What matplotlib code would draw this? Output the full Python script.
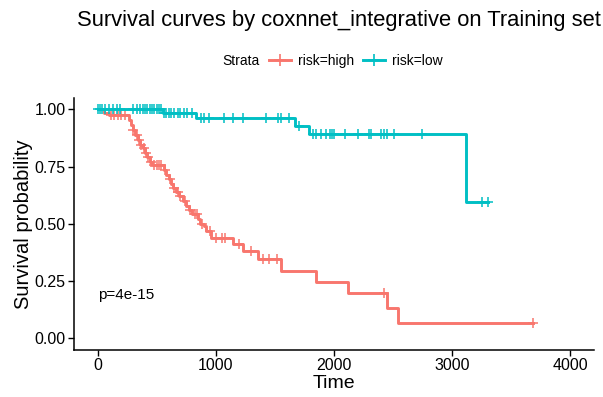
import numpy as np
import matplotlib.pyplot as plt

plt.rcParams['font.family'] = ['Liberation Sans', 'DejaVu Sans']

# --- risk=high: step times and survival after each step ---
high_t = [0, 50, 100, 265, 280, 300, 320, 340, 360, 380, 400, 420, 440, 460,
          560, 580, 600, 620, 640, 660, 690, 720, 750, 770, 800, 850, 870,
          900, 920, 960, 1145, 1230, 1355, 1555, 1850, 2115, 2445, 2540]
high_s = [1.0, 0.985, 0.975, 0.955, 0.93, 0.91, 0.89, 0.865, 0.845, 0.83,
          0.81, 0.79, 0.77, 0.755, 0.735, 0.715, 0.695, 0.675, 0.655, 0.64,
          0.62, 0.60, 0.58, 0.56, 0.545, 0.52, 0.50, 0.49, 0.47, 0.44,
          0.41, 0.38, 0.345, 0.295, 0.246, 0.197, 0.131, 0.066]
high_cens = [110, 140, 170, 200, 230, 300, 330, 350, 370, 390, 410, 430, 450,
             480, 500, 520, 540, 570, 610, 650, 680, 700, 740, 780, 820, 840,
             880, 950, 1000, 1050, 1080, 1200, 1300, 1400, 1450, 1520, 2420, 3680]

# --- risk=low ---
low_t = [0, 550, 835, 1670, 1785, 3117]
low_s = [1.0, 0.985, 0.963, 0.928, 0.894, 0.596]
low_cens = [0, 20, 40, 60, 100, 130, 160, 190, 300, 330, 360, 380, 400, 420,
            440, 460, 480, 500, 520, 540, 560, 580, 600, 620, 650, 680, 700,
            730, 760, 800, 875, 900, 943, 1070, 1146, 1231, 1427, 1529, 1554,
            1622, 1700, 1826, 1851, 1894, 1936, 1962, 1979, 2004, 2089, 2200,
            2293, 2310, 2395, 2420, 2446, 2505, 2743, 3253, 3303]

p_text = 'p=4e-15'


def surv_at(times, surv, t):
    idx = np.searchsorted(times, t, side='right') - 1
    return np.asarray(surv)[idx]


fig = plt.figure(figsize=(6.03, 3.97), dpi=100)
ax = fig.add_axes([74 / 603, 1 - 349.8 / 397, (594 - 74) / 603, (349.8 - 97.9) / 397])

curves = [
    ('risk=high', high_t, high_s, high_cens, '#F8766D'),
    ('risk=low', low_t, low_s, low_cens, '#00BFC4'),
]
for name, t, s, cens, col in curves:
    t_end = max(max(cens), t[-1])
    tt = list(t) + [t_end]
    ss = list(s) + [s[-1]]
    ax.step(tt, ss, where='post', color=col, lw=2.1, label=name)
    ax.plot(cens, surv_at(t, s, cens), '+', color=col, ms=7, mew=1.1)

ax.set_xlim(-200, 4200)
ax.set_ylim(-0.05, 1.05)
ax.set_xticks([0, 1000, 2000, 3000, 4000])
ax.set_yticks([0, 0.25, 0.5, 0.75, 1.0])
ax.set_yticklabels(['0.00', '0.25', '0.50', '0.75', '1.00'])
ax.tick_params(labelsize=11.5, colors='black', length=4, width=1, pad=2)
for side in ['top', 'right']:
    ax.spines[side].set_visible(False)
for side in ['left', 'bottom']:
    ax.spines[side].set_linewidth(1.1)

ax.set_xlabel('Time', fontsize=14, labelpad=1)
ax.set_ylabel('Survival probability', fontsize=14.5, labelpad=1)
ax.text(0, 0.19, p_text, fontsize=11, va='center', ha='left')

# title runs up to the right edge as in the original
fig.text(1 - 2 / 603, 1 - 25.7 / 397, 'Survival curves by coxnnet_integrative on Training set',
         fontsize=15.8, ha='right', va='baseline')

# legend on top
fig.text(222 / 603, 1 - 61 / 397, 'Strata', fontsize=10, ha='left', va='center')
handles = [plt.Line2D([], [], color=c, lw=2.1, marker='+', ms=9, mew=1.2)
           for c in ['#F8766D', '#00BFC4']]
fig.legend(handles, ['risk=high', 'risk=low'], loc='center left',
           bbox_to_anchor=(262 / 603, 1 - 61 / 397), ncol=2, frameon=False,
           fontsize=10, handlelength=1.6, handletextpad=0.5, columnspacing=0.6,
           borderpad=0)

fig.savefig('out.png', dpi=100)
